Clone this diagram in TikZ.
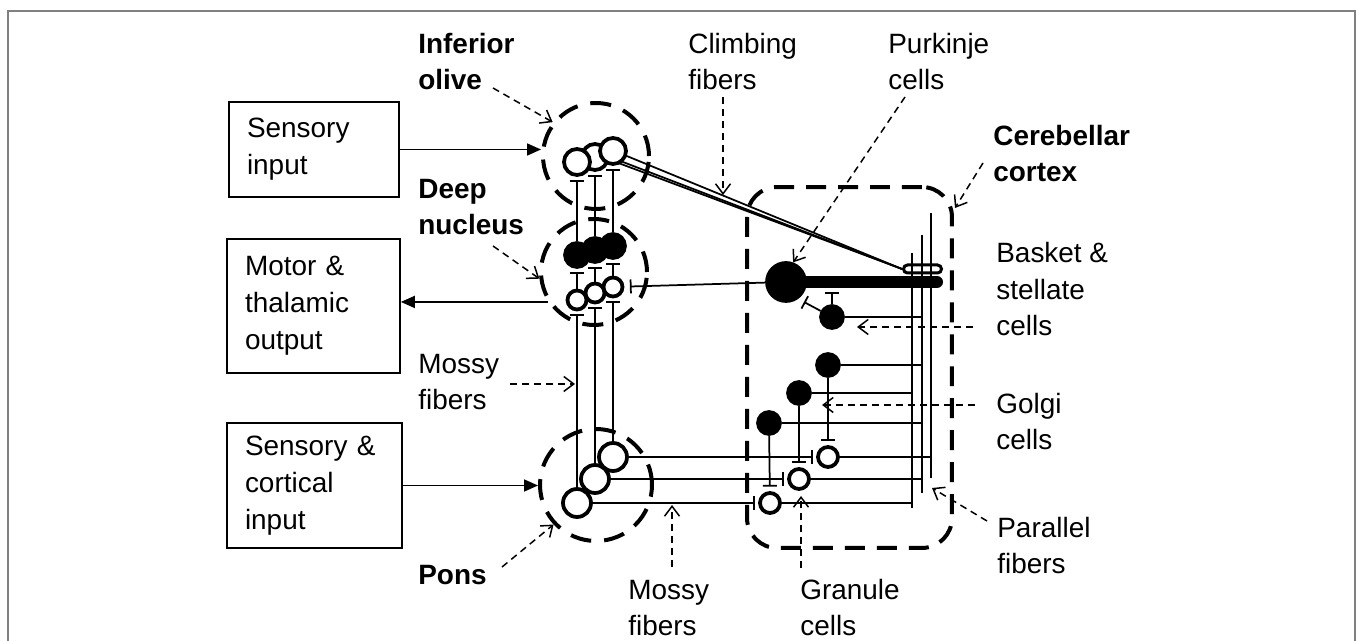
\documentclass[tikz,border=0pt]{standalone}
\usepackage{fontspec}
\setmainfont{Liberation Sans}
\usetikzlibrary{arrows.meta}
\pgfdeclarelayer{bg}
\pgfsetlayers{bg,main}

\tikzset{
  txt/.style={font=\fontsize{15.9}{21}\selectfont, inner sep=0pt, align=left},
  boldtxt/.style={txt, font=\fontsize{15.9}{21}\selectfont\bfseries},
  inbox/.style={draw, line width=0.035cm, inner xsep=0.36cm, inner ysep=0pt, align=left,
    font=\fontsize{15.9}{21}\selectfont},
  region/.style={circle, draw, line width=0.08cm, dash pattern=on 0.42cm off 0.26cm, minimum size=#1},
  opencell/.style={circle, draw, fill=white, line width=0.075cm, inner sep=0pt, minimum size=#1},
  fullcell/.style={circle, draw, fill=black, line width=0.035cm, inner sep=0pt, minimum size=#1},
  fiber/.style={line width=0.035cm},
  syn/.style={fiber, -{Bar[width=0.28cm]}, shorten >=#1},
  syn/.default=0.06cm,
  lbl/.style={line width=0.03cm, dash pattern=on 0.14cm off 0.1cm,
    -{Straight Barb[length=0.2cm,width=0.3cm]}},
  signal/.style={line width=0.035cm, -{Triangle[length=0.28cm,width=0.24cm]}},
}

\begin{document}
\begin{tikzpicture}[x=0.02cm, y=-0.02cm]
  \useasboundingbox (0,0) rectangle (1357,641);
  \draw[gray, line width=0.05cm] (8,641) -- (8,11) -- (1355,11) -- (1355,641);

  % fixed points
  \coordinate (pf1t) at (912,253);
  \coordinate (pf1b) at (912,508);
  \coordinate (pf2t) at (922,235);
  \coordinate (pf2b) at (922,493);
  \coordinate (pf3t) at (931,213);
  \coordinate (pf3b) at (931,478);
  \coordinate (pcd) at (937,282);
  \coordinate (bcsyn) at (804,302);
  \coordinate (stsyn) at (832,292);

  % input and output boxes
  \node[inbox, minimum width=3.4cm, minimum height=1.9cm, text width=2.68cm] (sin) at (314,149.5) {Sensory\\input};
  \node[inbox, minimum width=3.46cm, minimum height=2.68cm, text width=2.74cm] (mot) at (313.5,306) {Motor \&\\thalamic\\output};
  \node[inbox, minimum width=3.5cm, minimum height=2.5cm, text width=2.78cm] (sci) at (314.5,485.5) {Sensory \&\\cortical\\input};

  % nuclei
  \node[region=2.12cm] (iocirc) at (596,156) {};
  \node[region=2.12cm] (dncirc) at (594,272) {};
  \node[region=2.24cm] (pncirc) at (596,485) {};

  \node[opencell=0.52cm] (io2) at (595,157) {};
  \node[opencell=0.52cm] (io1) at (577,162) {};
  \node[opencell=0.52cm] (io3) at (613,151) {};
  \node[fullcell=0.52cm] (dn1) at (577,255) {};
  \node[fullcell=0.52cm] (dn2) at (595,250) {};
  \node[fullcell=0.52cm] (dn3) at (613,246) {};
  \node[opencell=0.38cm] (do2) at (595,293) {};
  \node[opencell=0.38cm] (do1) at (577,300) {};
  \node[opencell=0.38cm] (do3) at (613,287) {};
  \node[opencell=0.56cm] (pn2) at (595,479) {};
  \node[opencell=0.56cm] (pn1) at (577,503) {};
  \node[opencell=0.56cm] (pn3) at (613,457) {};

  % cerebellar cortex
  \node[draw, line width=0.08cm, dash pattern=on 0.4cm off 0.24cm, rounded corners=0.6cm,
    minimum width=4.1cm, minimum height=7.22cm] (ctx) at (849.5,367.5) {};
  \node[fullcell=0.8cm] (pc) at (786,282) {};
  \node[draw, fill=white, line width=0.06cm, rounded corners=0.08cm, minimum width=0.76cm,
    minimum height=0.16cm, inner sep=0pt] (cf) at (922.5,269) {};
  \node[fullcell=0.48cm] (bc) at (832,317) {};
  \node[fullcell=0.48cm] (go1) at (828,365) {};
  \node[fullcell=0.48cm] (go2) at (799,393) {};
  \node[fullcell=0.48cm] (go3) at (769,423) {};
  \node[opencell=0.4cm] (gr1) at (828,457) {};
  \node[opencell=0.4cm] (gr2) at (799,479) {};
  \node[opencell=0.4cm] (gr3) at (770,503) {};

  \begin{pgfonlayer}{bg}
    % climbing fibers
    \draw[fiber] (io3.-20) -- (cf.west);
    \draw[fiber] (io2.east) -- (cf.west);
    \draw[fiber] (io1.north east) -- (cf.west);
    % mossy fibers and collaterals
    \foreach \i in {1,2,3} {
      \draw[syn] (pn\i.north) -- (do\i.south);
      \draw[syn] (do\i.north) -- (dn\i.south);
      \draw[syn] (dn\i.north) -- (io\i.south);
    }
    \draw[syn=0.07cm] (pn3) -- (gr1);
    \draw[syn=0.07cm] (pn2) -- (gr2);
    \draw[syn=0.07cm] (pn1) -- (gr3);
    % golgi loop
    \draw[syn=0.09cm] (go1) -- (gr1);
    \draw[syn=0.09cm] (go2) -- (gr2);
    \draw[syn=0.09cm] (go3) -- (gr3);
    \draw[fiber] (go1) -- (go1 -| pf2b);
    \draw[fiber] (go2) -- (go2 -| pf1b);
    \draw[fiber] (go3) -- (go3 -| pf2b);
    \draw[fiber] (gr1) -- (gr1 -| pf3b);
    \draw[fiber] (gr2) -- (gr2 -| pf2b);
    \draw[fiber] (gr3) -- (gr3 -| pf1b);
    % basket and stellate
    \draw[fiber] (bc) -- (bc -| pf2b);
    \draw[syn=0cm] (bc) -- (bcsyn);
    \draw[syn=0cm] (bc) -- (stsyn);
    % purkinje output
    \draw[syn=0.11cm] (pc) -- (do3);
    \draw[line width=0.24cm, line cap=round] (pc) -- (pcd);
  \end{pgfonlayer}

  % parallel fibers
  \draw[fiber] (pf1t) -- (pf1b);
  \draw[fiber] (pf2t) -- (pf2b);
  \draw[fiber] (pf3t) -- (pf3b);

  % inputs and output
  \draw[signal] (sin.east) -- (sin.east -| iocirc.west);
  \draw[signal] (dncirc.-147) -- (dncirc.-147 -| mot.east);
  \draw[signal] (sci.east) -- (sci.east -| pncirc.west);

  % labels (base = last line)
  \node[boldtxt, anchor=base west] (iolab) at (418,90) {Inferior\\olive};
  \node[txt, anchor=base west] (cflab) at (688,90) {Climbing\\fibers};
  \node[txt, anchor=base west] (pclab) at (888,90) {Purkinje\\cells};
  \node[boldtxt, anchor=base west] (ctxlab) at (993,182) {Cerebellar\\cortex};
  \node[boldtxt, anchor=base west] (dnlab) at (418,235) {Deep\\nucleus};
  \node[txt, anchor=base west] (bclab) at (996,336) {Basket \&\\stellate\\cells};
  \node[txt, anchor=base west] (mflab) at (418,410) {Mossy\\fibers};
  \node[txt, anchor=base west] (golab) at (996,450) {Golgi\\cells};
  \node[txt, anchor=base west] (pflab) at (997,574) {Parallel\\fibers};
  \node[boldtxt, anchor=base west] (pnlab) at (418,585) {Pons};
  \node[txt, anchor=base west] (mfblab) at (628,636) {Mossy\\fibers};
  \node[txt, anchor=base west] (grlab) at (800,636) {Granule\\cells};

  % label pointers
  \coordinate (iotail) at (493,88);
  \coordinate (dntail) at (493,246);
  \coordinate (mftail) at (510,384);
  \coordinate (mftip) at (575,384);
  \coordinate (pntail) at (502,567);
  \coordinate (cftail) at (723,97);
  \coordinate (cftip) at (723,195);
  \coordinate (pctail) at (905,97);
  \coordinate (ctxtail) at (983,163);
  \coordinate (ctxtip) at (955,208);
  \coordinate (bctail) at (973,327);
  \coordinate (bctip) at (857,327);
  \coordinate (gotail) at (975,405);
  \coordinate (gotip) at (822,405);
  \coordinate (pftail) at (987,521);
  \coordinate (pftip) at (932,488);
  \coordinate (mfbtail) at (672,567);
  \coordinate (mfbtip) at (672,505);
  \coordinate (grtail) at (801,568);
  \coordinate (grtip) at (801,496);
  \draw[lbl] (iotail) -- (iocirc.142);
  \draw[lbl] (dntail) -- (dncirc.187);
  \draw[lbl] (mftail) -- (mftip);
  \draw[lbl] (pntail) -- (pncirc.223);
  \draw[lbl] (cftail) -- (cftip);
  \draw[lbl] (pctail) -- (pc.70);
  \draw[lbl] (ctxtail) -- (ctxtip);
  \draw[lbl] (bctail) -- (bctip);
  \draw[lbl] (gotail) -- (gotip);
  \draw[lbl] (pftail) -- (pftip);
  \draw[lbl] (mfbtail) -- (mfbtip);
  \draw[lbl] (grtail) -- (grtip);
\end{tikzpicture}
\end{document}
